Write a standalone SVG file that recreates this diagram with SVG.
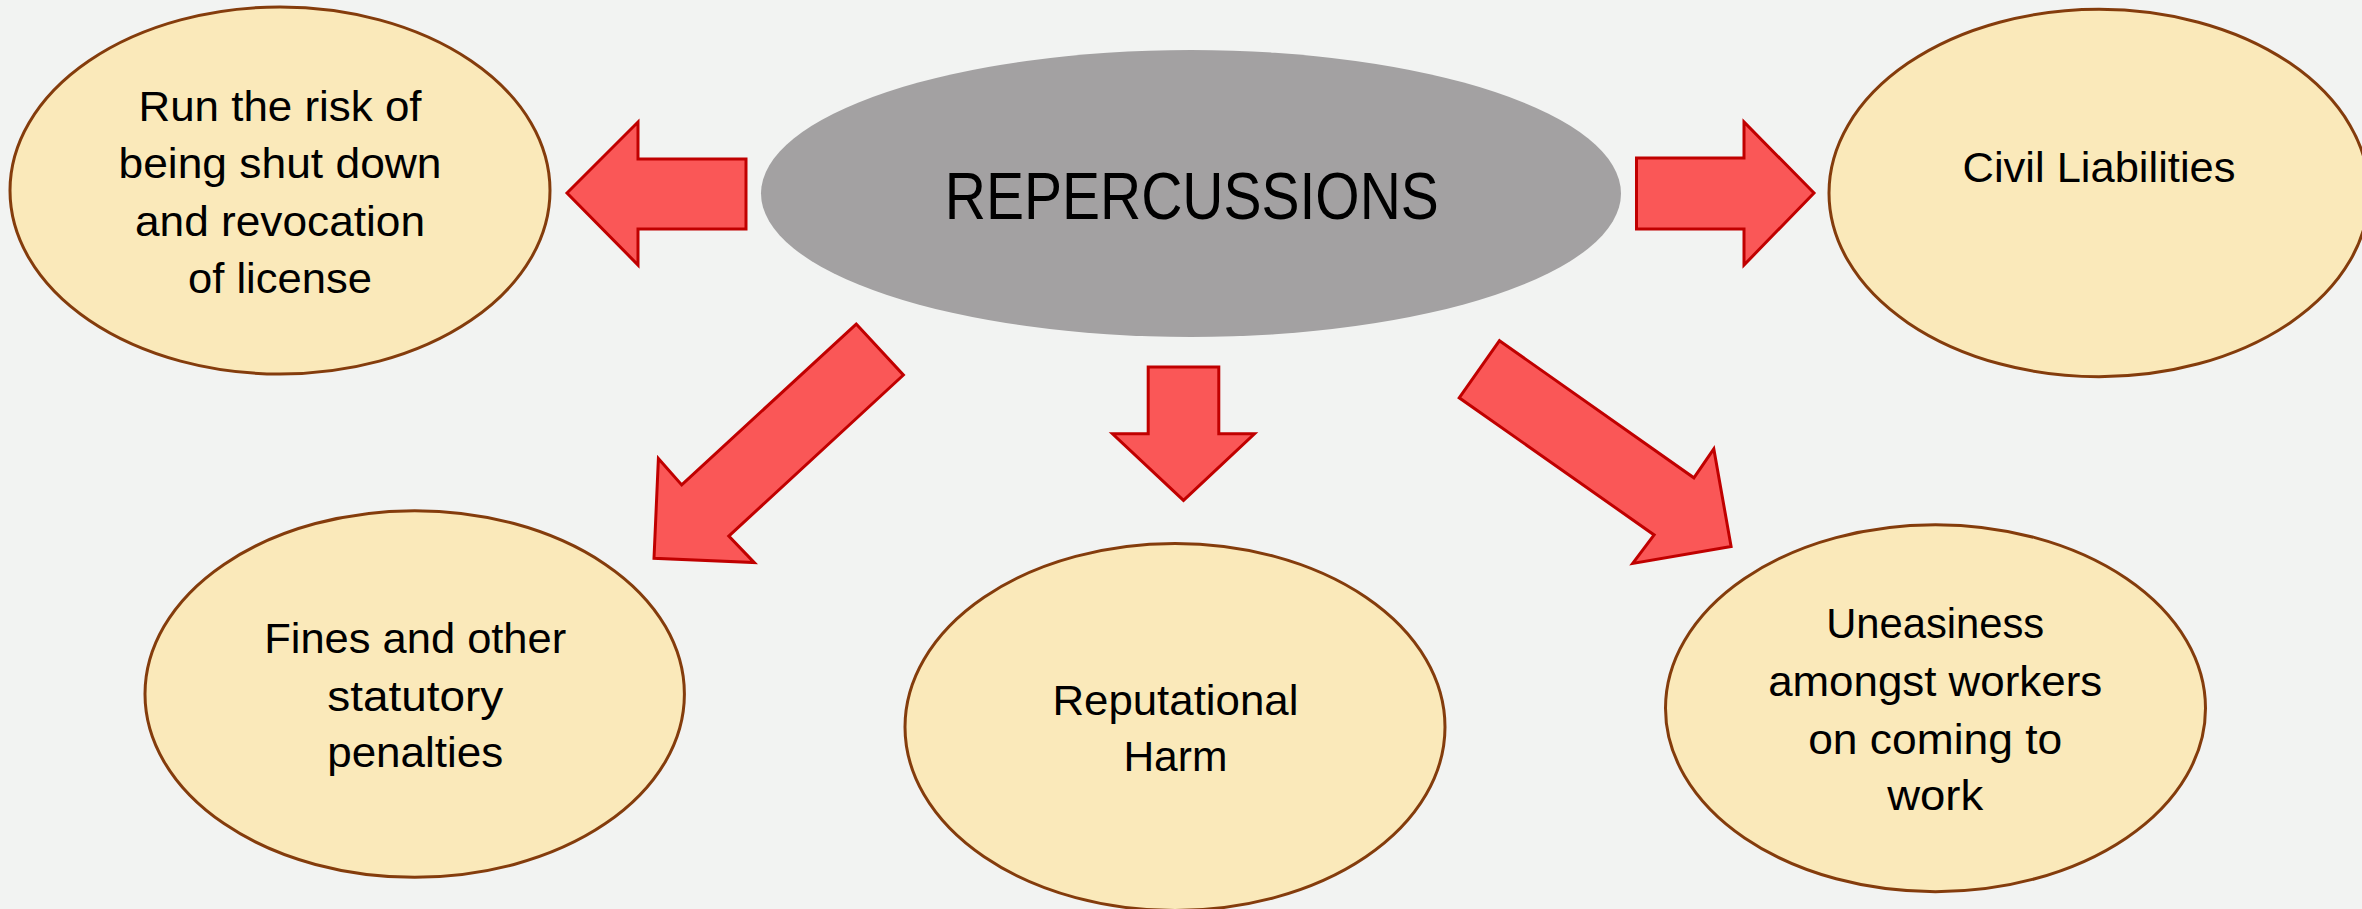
<svg xmlns="http://www.w3.org/2000/svg" width="2362" height="909" viewBox="0 0 2362 909">
<style>
.bg{fill:#F2F3F2}
.leaf{fill:#FAE9BA;stroke:#843C0C;stroke-width:3}
.hub{fill:#A3A1A2}
.arrow{fill:#FA5757;stroke:#C00000;stroke-width:3;stroke-linejoin:miter}
.t{font-family:"Liberation Sans",Arial,sans-serif;font-size:43px;fill:#000;text-anchor:middle}
.th{font-family:"Liberation Sans",Arial,sans-serif;font-size:66px;fill:#000;text-anchor:middle}
</style>
<rect class="bg" x="0" y="0" width="2362" height="909"/>
<g id="connectors">
<polygon class="arrow" points="567,193 638,122 638,159 746,159 746,229 638,229 638,265"/>
<polygon class="arrow" points="1636.5,158 1744,158 1744,122 1814,193 1744,265 1744,229 1636.5,229"/>
<polygon class="arrow" points="1148.2,367.1 1218.8,367.1 1218.8,433.8 1254.5,433.8 1183.5,500.4 1112.5,433.8 1148.2,433.8"/>
<polygon class="arrow" points="856.2,324.1 903.4,375 728.8,536.1 754.3,562.6 654,558.3 658.4,458.5 681.7,484.9"/>
<polygon class="arrow" points="1499.5,340.7 1693.9,477.8 1713.8,448.9 1731.1,546.5 1632.7,563.4 1654.1,534.9 1459.2,397.8"/>
</g>
<g id="hub">
<ellipse class="hub" cx="1191" cy="193.5" rx="430" ry="143.5"/>
<text class="th" x="1191.8" y="218.5" textLength="494" lengthAdjust="spacingAndGlyphs">REPERCUSSIONS</text>
</g>
<g id="node-shutdown">
<ellipse class="leaf" cx="280" cy="190.5" rx="270" ry="183.5"/>
<text class="t" x="280" y="120.7" textLength="283" lengthAdjust="spacingAndGlyphs">Run the risk of</text>
<text class="t" x="280" y="178.3" textLength="323" lengthAdjust="spacingAndGlyphs">being shut down</text>
<text class="t" x="280" y="235.7" textLength="290" lengthAdjust="spacingAndGlyphs">and revocation</text>
<text class="t" x="280" y="293.3" textLength="184" lengthAdjust="spacingAndGlyphs">of license</text>
</g>
<g id="node-civil">
<ellipse class="leaf" cx="2099" cy="193" rx="270" ry="183.7"/>
<text class="t" x="2099" y="181.7" textLength="273" lengthAdjust="spacingAndGlyphs">Civil Liabilities</text>
</g>
<g id="node-fines">
<ellipse class="leaf" cx="414.7" cy="694" rx="269.7" ry="183.3"/>
<text class="t" x="415.2" y="652.7" textLength="302" lengthAdjust="spacingAndGlyphs">Fines and other</text>
<text class="t" x="415.2" y="710.5" textLength="176" lengthAdjust="spacingAndGlyphs">statutory</text>
<text class="t" x="415.2" y="767" textLength="176" lengthAdjust="spacingAndGlyphs">penalties</text>
</g>
<g id="node-reputational">
<ellipse class="leaf" cx="1175" cy="727" rx="270" ry="183.5"/>
<text class="t" x="1175.4" y="714.7" textLength="246" lengthAdjust="spacingAndGlyphs">Reputational</text>
<text class="t" x="1175.4" y="770.7" textLength="104" lengthAdjust="spacingAndGlyphs">Harm</text>
</g>
<g id="node-uneasiness">
<ellipse class="leaf" cx="1935.5" cy="708.2" rx="270" ry="183.5"/>
<text class="t" x="1935.2" y="638.2" textLength="218" lengthAdjust="spacingAndGlyphs">Uneasiness</text>
<text class="t" x="1935.2" y="695.7" textLength="334" lengthAdjust="spacingAndGlyphs">amongst workers</text>
<text class="t" x="1935.2" y="753.9" textLength="254" lengthAdjust="spacingAndGlyphs">on coming to</text>
<text class="t" x="1935.2" y="810.2" textLength="96" lengthAdjust="spacingAndGlyphs">work</text>
</g>
</svg>
